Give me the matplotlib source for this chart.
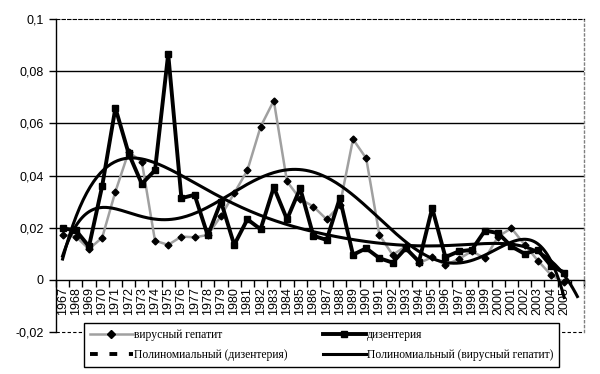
import numpy as np
import matplotlib
matplotlib.use("Agg")
import matplotlib.pyplot as plt
from matplotlib.lines import Line2D

# ==========================================
# данные (доли), 1967-2005
# ==========================================
years = list(range(1967, 2006))
hepatitis = [0.0172, 0.0166, 0.0118, 0.0162, 0.0338, 0.049, 0.0453, 0.015, 0.0134, 0.0166,
             0.0163, 0.0172, 0.0245, 0.0332, 0.042, 0.0587, 0.0687, 0.0377, 0.031, 0.0281,
             0.0232, 0.0285, 0.0539, 0.0466, 0.0172, 0.0096, 0.0128, 0.0064, 0.0087, 0.0057,
             0.0079, 0.011, 0.0082, 0.0166, 0.0198, 0.0135, 0.0074, 0.0019, -0.001]
dysentery = [0.0197, 0.019, 0.0128, 0.036, 0.0659, 0.0485, 0.0368, 0.042, 0.0866, 0.0313,
             0.0326, 0.017, 0.030, 0.0134, 0.0232, 0.0194, 0.0355, 0.0232, 0.0351, 0.0169,
             0.0153, 0.0313, 0.0096, 0.0121, 0.0083, 0.0066, 0.0121, 0.007, 0.0275, 0.0087,
             0.0109, 0.0115, 0.0189, 0.0179, 0.0128, 0.010, 0.0115, 0.0054, 0.0028]
yticks = [-0.02, 0, 0.02, 0.04, 0.06, 0.08, 0.1]
ytick_labels = ["-0,02", "0", "0,02", "0,04", "0,06", "0,08", "0,1"]
labels = ["вирусный гепатит", "дизентерия",
          "Полиномиальный (дизентерия)", "Полиномиальный (вирусный гепатит)"]

# полиномиальные тренды как в Excel (x = 1..n), тренд дизентерии с прогнозом на 1 период
n = len(years)
x_data = np.arange(1, n + 1)
trend_hep = np.polynomial.Polynomial.fit(x_data, hepatitis, 6)
trend_dys = np.polynomial.Polynomial.fit(x_data, dysentery, 6)
x_hep = np.linspace(1, n, 300)
x_dys = np.linspace(1, n + 1, 300)

fig = plt.figure(figsize=(6.0, 3.74), dpi=100)
ax = fig.add_axes([56 / 600, 1 - 332 / 374, 528 / 600, 313 / 374])

ax.plot(x_data - 1, hepatitis, color="#a0a0a0", linewidth=1.8, marker="D", markersize=3.5,
        markerfacecolor="black", markeredgecolor="black", zorder=3)
ax.plot(x_data - 1, dysentery, color="black", linewidth=2.8, marker="s", markersize=5,
        markerfacecolor="black", markeredgecolor="black", zorder=4)
ax.plot(x_dys - 1, trend_dys(x_dys), color="black", linewidth=2.2, zorder=5)
ax.plot(x_hep - 1, trend_hep(x_hep), color="black", linewidth=2.2, zorder=5)

ax.set_xlim(-0.5, n + 0.5)
ax.set_ylim(-0.02, 0.1)

# сетка и рамка
for v in [0.02, 0.04, 0.06, 0.08]:
    ax.axhline(v, color="black", linewidth=1, zorder=1)
ax.axhline(-0.02, color="black", linewidth=0.8, linestyle=(0, (3, 2)), clip_on=False, zorder=1)
ax.spines["top"].set_linestyle((0, (3, 2)))
ax.spines["top"].set_linewidth(0.8)
ax.spines["right"].set_linestyle((0, (1.5, 2)))
ax.spines["right"].set_color("#808080")
ax.spines["right"].set_linewidth(1)
ax.spines["bottom"].set_position(("data", 0))
ax.spines["left"].set_linewidth(1)
ax.spines["bottom"].set_linewidth(1)

ax.set_yticks(yticks)
ax.set_yticklabels(ytick_labels, fontfamily="Liberation Sans", fontsize=9)
ax.tick_params(axis="y", direction="out", length=5, width=1, pad=4)

ax.set_xticks(np.arange(n + 1))
ax.set_xticklabels([str(y) for y in years] + [""], rotation=90,
                   fontfamily="Liberation Sans", fontsize=9)
ax.set_xticks(np.arange(-0.5, n + 1), minor=True)
ax.tick_params(axis="x", which="major", length=0, pad=5)
ax.tick_params(axis="x", which="minor", direction="out", length=5, width=1)

handles = [
    Line2D([], [], color="#a0a0a0", linewidth=1.8, marker="D", markersize=4,
           markerfacecolor="black", markeredgecolor="black"),
    Line2D([], [], color="black", linewidth=2.8, marker="s", markersize=5,
           markerfacecolor="black"),
    Line2D([], [], color="black", linewidth=2.8, linestyle=(0, (2, 3))),
    Line2D([], [], color="black", linewidth=2.2),
]
order = [0, 2, 1, 3]
leg = fig.legend([handles[i] for i in order], [labels[i] for i in order], ncol=2,
                 loc="upper left", bbox_to_anchor=(84 / 600, 1 - 323 / 374),
                 frameon=True, fancybox=False, edgecolor="black",
                 framealpha=1, handlelength=3.7, handletextpad=0.1, labelspacing=0.7,
                 borderpad=0.5, borderaxespad=0, columnspacing=3.0,
                 prop={"family": "Liberation Serif", "size": 8.4})
leg.get_frame().set_linewidth(1)

fig.savefig("out.png", dpi=100)
